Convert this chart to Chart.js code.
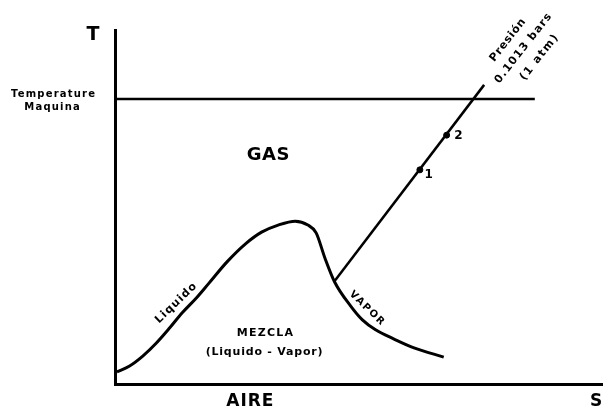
<!DOCTYPE html>
<html>
<head>
<meta charset="utf-8">
<script src="https://cdn.jsdelivr.net/npm/chart.js@4"></script>
<style>
  html, body { margin: 0; padding: 0; background: #fff; }
  #wrap { width: 607px; height: 409px; }
</style>
</head>
<body>
<div id="wrap"><canvas id="myChart"></canvas></div>
<script>
// Curva de saturacion (liquido -> vapor), S y T en unidades relativas 0-100
const domeS = [0.4, 3.0, 5.7, 8.5, 11.2, 13.8, 16.7, 19.3, 23.0, 26.8, 30.1, 33.5, 37.0, 39.6, 41.3, 43.1, 45.1, 48.4, 50.8, 53.5, 57.3, 61.4, 67.5];
const domeT = [3.4, 5.1, 7.9, 11.6, 15.8, 20.1, 24.3, 28.5, 34.5, 39.6, 42.9, 44.9, 46.0, 44.9, 42.7, 35.6, 28.8, 22.0, 18.1, 15.3, 12.7, 10.2, 7.6];

// Isobara 0.1013 bars
const isobarS = [45.1, 75.8];
const isobarT = [29.1, 84.5];

// Estados 1 y 2 sobre la isobara
const stateNames = ['1', '2'];
const stateS = [62.6, 68.1];
const stateT = [60.5, 70.3];

// Temperatura maquina
const machineT = 80.5;
const machineS = [0, 86.2];

const toPts = (xs, ys) => xs.map((x, i) => ({ x: x, y: ys[i] }));

document.addEventListener('DOMContentLoaded', function() {
    const FONT = '"DejaVu Sans", Verdana, sans-serif';

    // Text labels placed in data coordinates
    const labels = [
        { text: 'T', x: -4.5, y: 98.6, size: 19, sp: 0 },
        { text: 'Temperature', x: -12.6, y: 81.9, size: 10, sp: 1.2 },
        { text: 'Maquina', x: -12.8, y: 78.2, size: 10, sp: 1.2 },
        { text: 'GAS', x: 31.5, y: 64.7, size: 18, sp: 0.5 },
        { text: 'MEZCLA', x: 30.9, y: 14.4, size: 11, sp: 1.2 },
        { text: '(Liquido - Vapor)', x: 30.7, y: 9.0, size: 11, sp: 0.8 },
        { text: 'AIRE', x: 27.8, y: -5.1, size: 17, sp: 1 },
        { text: 'S', x: 98.8, y: -5.1, size: 17, sp: 0 },
        { text: 'Liquido', x: 12.6, y: 22.9, size: 11, sp: 1.2, rot: -44 },
        { text: 'VAPOR', x: 51.8, y: 21.3, size: 10, sp: 1.5, rot: 44 },
        { text: 'Presión', x: 80.7, y: 97.2, size: 11, sp: 0.8, rot: -52 },
        { text: '0.1013 bars', x: 83.9, y: 94.9, size: 11, sp: 1.2, rot: -52 },
        { text: '(1 atm)', x: 87.2, y: 92.4, size: 11, sp: 1.5, rot: -52 },
        { text: stateNames[0], x: 64.4, y: 59.0, size: 12, sp: 0 },
        { text: stateNames[1], x: 70.5, y: 70.1, size: 12, sp: 0 }
    ];

    const textPlugin = {
        id: 'textLabels',
        afterDraw(chart) {
            const c = chart.ctx;
            const xs = chart.scales.x, ys = chart.scales.y;
            c.save();
            c.fillStyle = '#000';
            c.textBaseline = 'middle';
            c.textAlign = 'center';
            labels.forEach(function(l) {
                c.save();
                c.translate(xs.getPixelForValue(l.x), ys.getPixelForValue(l.y));
                if (l.rot) c.rotate(l.rot * Math.PI / 180);
                c.font = 'bold ' + l.size + 'px ' + FONT;
                if ('letterSpacing' in c) c.letterSpacing = l.sp + 'px';
                c.fillText(l.text, 0, 0);
                c.restore();
            });
            c.restore();
        }
    };

    const ctx = document.getElementById('myChart').getContext('2d');
    new Chart(ctx, {
        type: 'scatter',
        data: {
            datasets: [
                {
                    label: 'Saturacion',
                    data: toPts(domeS, domeT),
                    showLine: true,
                    borderColor: '#000',
                    borderWidth: 3,
                    pointRadius: 0,
                    cubicInterpolationMode: 'monotone',
                    borderJoinStyle: 'round',
                    clip: false
                },
                {
                    label: 'Isobara',
                    data: toPts(isobarS, isobarT),
                    showLine: true,
                    borderColor: '#000',
                    borderWidth: 2.5,
                    pointRadius: 0,
                    clip: false
                },
                {
                    label: 'Temperatura maquina',
                    data: toPts(machineS, [machineT, machineT]),
                    showLine: true,
                    borderColor: '#000',
                    borderWidth: 2.5,
                    pointRadius: 0,
                    clip: false
                },
                {
                    label: 'Estados',
                    data: toPts(stateS, stateT),
                    showLine: false,
                    backgroundColor: '#000',
                    borderColor: '#000',
                    pointRadius: 3,
                    clip: false
                }
            ]
        },
        options: {
            responsive: true,
            maintainAspectRatio: false,
            animation: false,
            layout: { padding: { left: 115, top: 30, right: 2, bottom: 25 } },
            scales: {
                x: {
                    type: 'linear',
                    min: 0,
                    max: 100,
                    grid: { display: false, drawTicks: false },
                    ticks: { display: false },
                    border: { display: true, color: '#000', width: 3 }
                },
                y: {
                    type: 'linear',
                    min: 0,
                    max: 100,
                    grid: { display: false, drawTicks: false },
                    ticks: { display: false },
                    border: { display: true, color: '#000', width: 3 }
                }
            },
            plugins: {
                legend: { display: false },
                tooltip: { enabled: false }
            }
        },
        plugins: [textPlugin]
    });
});
</script>
</body>
</html>
